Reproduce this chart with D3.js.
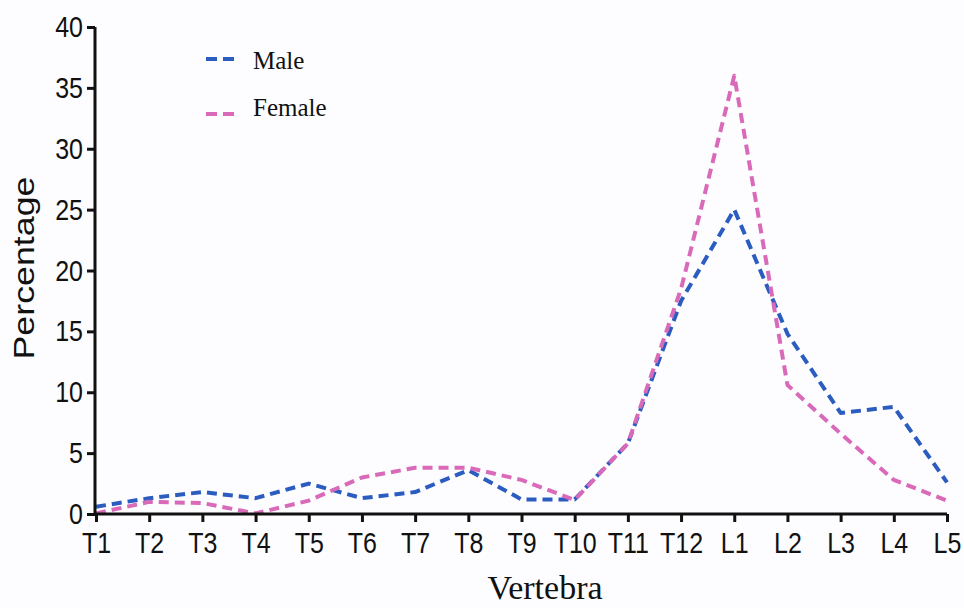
<!DOCTYPE html>
<html>
<script src='https://d3js.org/d3.v7.min.js'></script>
<style>
    body { margin: 0; background: #fdfdff; }
    .tick text { font-family: 'Liberation Sans', Arial, sans-serif; fill: #111; }
</style>

<body onload='init()'>
    <svg width=964 height=608></svg>
    <script>
        // data
        let vertebrae = ['T1', 'T2', 'T3', 'T4', 'T5', 'T6', 'T7', 'T8', 'T9', 'T10', 'T11', 'T12', 'L1', 'L2', 'L3', 'L4', 'L5'];
        let male = [0.6, 1.3, 1.8, 1.3, 2.5, 1.3, 1.8, 3.6, 1.2, 1.2, 5.8, 17.5, 25, 14.8, 8.3, 8.8, 2.6];
        let female = [0.05, 1.0, 0.9, 0.05, 1.1, 3.0, 3.8, 3.8, 2.8, 1.15, 5.8, 18.5, 36, 10.6, 6.6, 2.8, 1.1];
        let yTicks = [0, 5, 10, 15, 20, 25, 30, 35, 40];
        let seriesNames = ['Male', 'Female'];
        let colors = ['#2b5cc0', '#d96ab9'];

        function init() {
            let svg = d3.select('svg');

            let x = d3.scalePoint().domain(vertebrae).range([96, 947]);
            let y = d3.scaleLinear().domain([0, 40]).range([514, 27]);

            // lines first so axes sit on top
            let line = d3.line()
                .x((d, i) => x(vertebrae[i]))
                .y(d => y(d));

            [male, female].forEach(function (s, k) {
                svg.append('path')
                    .datum(s)
                    .attr('d', line)
                    .attr('fill', 'none')
                    .attr('stroke', colors[k])
                    .attr('stroke-width', 4)
                    .attr('stroke-dasharray', '10,6')
                    .attr('stroke-linejoin', 'round');
            });

            // axes
            let yAxis = d3.axisLeft(y).tickValues(yTicks).tickSize(8).tickPadding(4);
            let xAxis = d3.axisBottom(x).tickSize(8).tickPadding(7);

            let gy = svg.append('g').attr('transform', 'translate(95,0)').call(yAxis);
            let gx = svg.append('g').attr('transform', 'translate(0,514)').call(xAxis);

            [gy, gx].forEach(function (g) {
                g.select('.domain').attr('stroke', '#111').attr('stroke-width', 3);
                g.selectAll('.tick line').attr('stroke', '#111').attr('stroke-width', 3);
                // the original lettering is a bit taller than it is wide
                g.selectAll('.tick text')
                    .style('font-size', '25px')
                    .attr('transform', 'scale(1,1.2)');
            });
            gx.select('.domain').attr('d', 'M95,0H947');
            gy.select('.domain').attr('d', 'M0,27V514');

            // axis titles
            svg.append('text')
                .attr('transform', 'translate(34,268) rotate(-90)')
                .attr('text-anchor', 'middle')
                .attr('textLength', 183)
                .attr('lengthAdjust', 'spacingAndGlyphs')
                .style('font-family', "'Liberation Sans', Arial, sans-serif")
                .style('font-size', '30px')
                .attr('fill', '#111')
                .text('Percentage');

            svg.append('text')
                .attr('x', 545).attr('y', 599)
                .attr('text-anchor', 'middle')
                .style('font-family', "'Liberation Serif', 'Times New Roman', serif")
                .style('font-size', '34px')
                .attr('fill', '#111')
                .text('Vertebra');

            // legend
            let legendY = [59, 114];
            let legendTextY = [69, 116];
            seriesNames.forEach(function (name, k) {
                svg.append('line')
                    .attr('x1', 206).attr('x2', 238)
                    .attr('y1', legendY[k]).attr('y2', legendY[k])
                    .attr('stroke', colors[k])
                    .attr('stroke-width', 4)
                    .attr('stroke-dasharray', '11,6');
                svg.append('text')
                    .attr('x', 253).attr('y', legendTextY[k])
                    .style('font-family', "'Liberation Serif', 'Times New Roman', serif")
                    .style('font-size', '25px')
                    .attr('fill', '#111')
                    .text(name);
            });
        }
    </script>
</body>

</html>
